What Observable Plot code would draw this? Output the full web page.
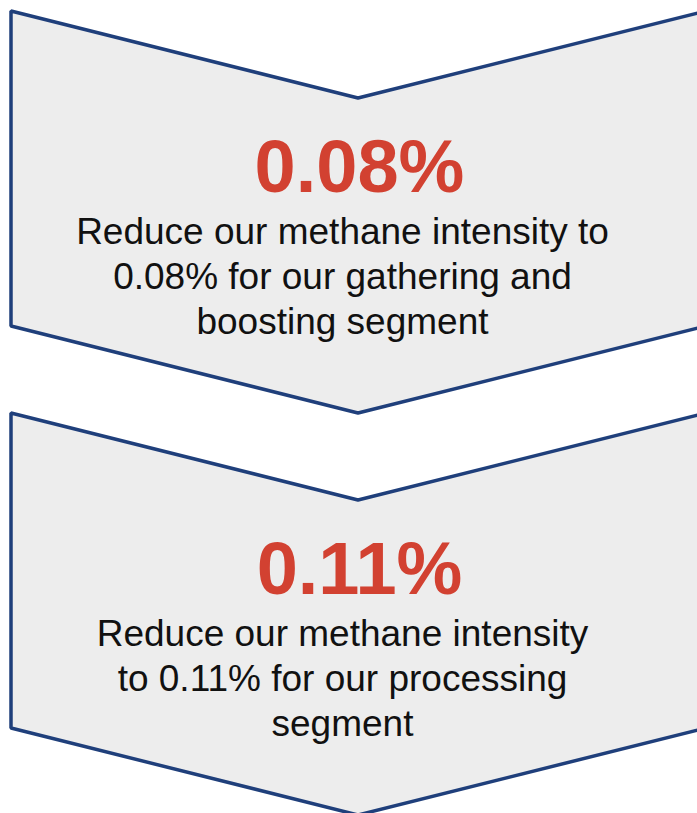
<!DOCTYPE html>
<html>
<head>
<meta charset="utf-8">
<script src="https://cdn.jsdelivr.net/npm/d3@7"></script>
<script src="https://cdn.jsdelivr.net/npm/@observablehq/plot@0.6"></script>
<style>
  html, body { margin: 0; padding: 0; background: #ffffff; }
  #chart svg { display: block; }
</style>
</head>
<body>
<div id="chart"></div>
<script>
// Content
const headlines = ["0.08%", "0.11%"];
const descriptions = [
  ["Reduce our methane intensity to", "0.08% for our gathering and", "boosting segment"],
  ["Reduce our methane intensity", "to 0.11% for our processing", "segment"]
];

// Chevron shape (relative to each chevron's top-left)
const shapeX = [11, 358, 706];
const shapeTop = [0, 87, 0];
const shapeBottom = [315, 402, 315];
const chevronTops = [11, 413];

const W = 697, H = 813;

const areaData = [];
chevronTops.forEach((t, c) => {
  shapeX.forEach((x, i) => {
    areaData.push({chevron: c, x, y1: t + shapeTop[i], y2: t + shapeBottom[i]});
  });
});

const titleRows = headlines.map((h, c) => ({text: h, x: 359, y: chevronTops[c] + 180}));
const bodyRows = [];
descriptions.forEach((lines, c) => {
  lines.forEach((line, j) => {
    bodyRows.push({text: line, x: 342, y: chevronTops[c] + 232 + j * 45});
  });
});

const chart = Plot.plot({
  width: W,
  height: H,
  margin: 0,
  style: {background: "#ffffff", fontFamily: "'Liberation Sans', Arial, sans-serif"},
  x: {domain: [0, W], range: [0, W], axis: null},
  y: {domain: [0, H], range: [0, H], axis: null},
  marks: [
    Plot.areaY(areaData, {
      x: "x", y1: "y1", y2: "y2", z: "chevron",
      fill: "#ededed", stroke: "#1f3f7b", strokeWidth: 3.5,
      strokeLinejoin: "miter", curve: "linear"
    }),
    Plot.text(titleRows, {
      x: "x", y: "y", text: "text",
      fontSize: 74, fontWeight: "bold", fill: "#d24131",
      lineAnchor: "bottom", textAnchor: "middle",
      fontFamily: "'Liberation Sans', Arial, sans-serif"
    }),
    Plot.text(bodyRows, {
      x: "x", y: "y", text: "text",
      fontSize: 37, fill: "#111111",
      lineAnchor: "bottom", textAnchor: "middle",
      fontFamily: "'Liberation Sans', Arial, sans-serif"
    })
  ]
});

document.getElementById("chart").appendChild(chart);
</script>
</body>
</html>
